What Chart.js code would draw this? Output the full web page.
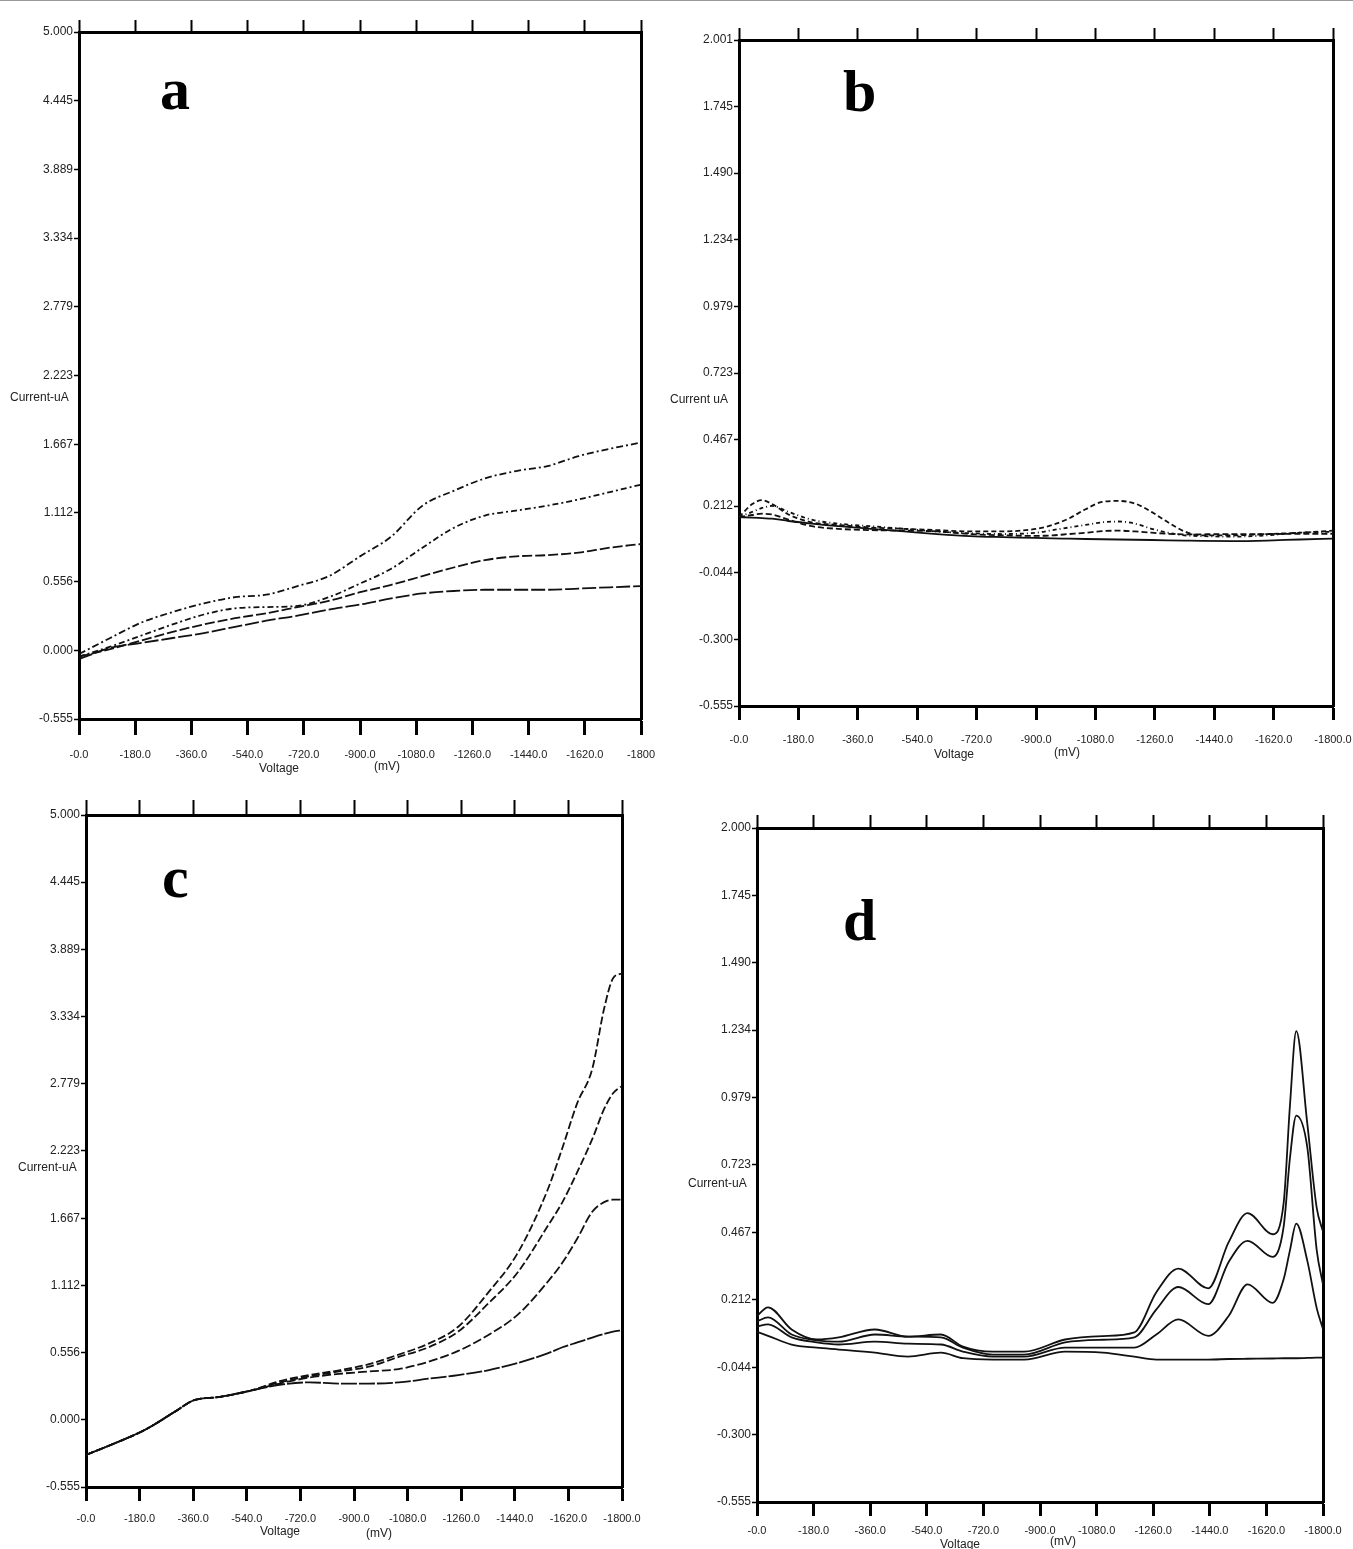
<!DOCTYPE html>
<html>
<head>
<meta charset="utf-8">
<script src="https://cdn.jsdelivr.net/npm/chart.js@4.4.0/dist/chart.umd.min.js"></script>
<style>
html, body { margin: 0; padding: 0; background: #fff; overflow: hidden; width: 1353px; height: 1549px; }
canvas { position: absolute; }
.t { position: absolute; font-family: 'Liberation Sans', sans-serif; font-size: 12px; color: #222; white-space: nowrap; line-height: 1; }
.p { position: absolute; font-family: 'Liberation Serif', serif; font-weight: bold; font-size: 60px; color: #000; line-height: 1; }
</style>
</head>
<body>
<div style="position:absolute;left:0;top:0;width:1353px;height:1px;background:#999"></div>

<canvas id="ca" width="676" height="780" style="left:0;top:0"></canvas>
<canvas id="cb" width="700" height="780" style="left:676px;top:0"></canvas>
<canvas id="cc" width="676" height="769" style="left:0;top:780px"></canvas>
<canvas id="cd" width="677" height="769" style="left:676px;top:780px"></canvas>

<div class="p" style="left:160px;top:59px">a</div>
<div class="p" style="left:843px;top:61px">b</div>
<div class="p" style="left:162px;top:847px">c</div>
<div class="p" style="left:843px;top:890px">d</div>

<div class="t" style="left:10px;top:391px">Current-uA</div>
<div class="t" style="left:259px;top:762px">Voltage</div>
<div class="t" style="left:374px;top:760px">(mV)</div>

<div class="t" style="left:670px;top:393px">Current uA</div>
<div class="t" style="left:934px;top:748px">Voltage</div>
<div class="t" style="left:1054px;top:746px">(mV)</div>

<div class="t" style="left:18px;top:1161px">Current-uA</div>
<div class="t" style="left:260px;top:1525px">Voltage</div>
<div class="t" style="left:366px;top:1527px">(mV)</div>

<div class="t" style="left:688px;top:1177px">Current-uA</div>
<div class="t" style="left:940px;top:1538px">Voltage</div>
<div class="t" style="left:1050px;top:1535px">(mV)</div>

<script>
// x axis ticks (mV), shared by all panels
var xTicks = [0, -180, -360, -540, -720, -900, -1080, -1260, -1440, -1620, -1800];
var xLabelsA = ['-0.0', '-180.0', '-360.0', '-540.0', '-720.0', '-900.0', '-1080.0', '-1260.0', '-1440.0', '-1620.0', '-1800'];
var xLabels = ['-0.0', '-180.0', '-360.0', '-540.0', '-720.0', '-900.0', '-1080.0', '-1260.0', '-1440.0', '-1620.0', '-1800.0'];

// y axis ticks (uA)
var yTicksAC = [-0.555, 0.000, 0.556, 1.112, 1.667, 2.223, 2.779, 3.334, 3.889, 4.445, 5.000];
var yTicksB = [-0.555, -0.300, -0.044, 0.212, 0.467, 0.723, 0.979, 1.234, 1.490, 1.745, 2.001];
var yTicksD = [-0.555, -0.300, -0.044, 0.212, 0.467, 0.723, 0.979, 1.234, 1.490, 1.745, 2.000];

// panel a
var aVolt = [0, -100, -200, -300, -400, -500, -600, -700, -800, -900, -1000, -1100, -1200, -1300, -1400, -1500, -1600, -1700, -1800];
var aCur1 = [-0.03, 0.10, 0.225, 0.31, 0.38, 0.43, 0.45, 0.52, 0.60, 0.76, 0.92, 1.17, 1.29, 1.39, 1.45, 1.49, 1.57, 1.63, 1.68];
var aCur2 = [-0.05, 0.03, 0.12, 0.21, 0.29, 0.34, 0.35, 0.36, 0.43, 0.54, 0.66, 0.83, 0.99, 1.09, 1.13, 1.17, 1.22, 1.28, 1.34];
var aCur3 = [-0.05, 0.01, 0.08, 0.15, 0.21, 0.26, 0.30, 0.35, 0.40, 0.47, 0.53, 0.60, 0.67, 0.73, 0.76, 0.77, 0.79, 0.83, 0.86];
var aCur4 = [-0.07, 0.02, 0.06, 0.10, 0.14, 0.19, 0.24, 0.28, 0.33, 0.37, 0.42, 0.46, 0.48, 0.49, 0.49, 0.49, 0.50, 0.51, 0.52];

// panel b
var bVolt = [0, -40, -70, -100, -150, -220, -300, -400, -500, -600, -700, -800, -900, -950, -1000, -1050, -1100, -1150, -1200, -1250, -1300, -1350, -1400, -1500, -1600, -1700, -1800];
var bCur1 = [0.17, 0.22, 0.235, 0.22, 0.18, 0.15, 0.14, 0.13, 0.125, 0.12, 0.115, 0.115, 0.125, 0.14, 0.165, 0.20, 0.228, 0.232, 0.222, 0.19, 0.15, 0.115, 0.10, 0.10, 0.105, 0.11, 0.118];
var bCur2 = [0.17, 0.19, 0.205, 0.213, 0.19, 0.16, 0.145, 0.135, 0.125, 0.115, 0.108, 0.105, 0.11, 0.12, 0.13, 0.14, 0.15, 0.153, 0.145, 0.125, 0.11, 0.10, 0.097, 0.095, 0.10, 0.11, 0.114];
var bCur3 = [0.17, 0.178, 0.183, 0.18, 0.16, 0.135, 0.125, 0.12, 0.118, 0.115, 0.105, 0.10, 0.098, 0.10, 0.105, 0.11, 0.116, 0.118, 0.115, 0.11, 0.106, 0.104, 0.104, 0.105, 0.105, 0.106, 0.106];
var bCur4 = [0.17, 0.168, 0.166, 0.164, 0.155, 0.145, 0.135, 0.125, 0.115, 0.105, 0.097, 0.093, 0.09, 0.088, 0.087, 0.086, 0.085, 0.084, 0.083, 0.082, 0.081, 0.08, 0.079, 0.078, 0.08, 0.084, 0.087];

// panel c
var cVolt = [0, -100, -200, -300, -360, -450, -550, -650, -750, -850, -950, -1050, -1150, -1250, -1350, -1450, -1550, -1600, -1650, -1700, -1740, -1770, -1800];
var cCur1 = [-0.29, -0.19, -0.08, 0.07, 0.16, 0.19, 0.24, 0.32, 0.37, 0.41, 0.46, 0.54, 0.63, 0.77, 1.05, 1.38, 1.90, 2.25, 2.62, 2.90, 3.40, 3.65, 3.69];
var cCur2 = [-0.29, -0.19, -0.08, 0.07, 0.16, 0.19, 0.24, 0.31, 0.36, 0.40, 0.44, 0.52, 0.60, 0.73, 0.96, 1.22, 1.60, 1.80, 2.05, 2.32, 2.57, 2.70, 2.76];
var cCur3 = [-0.29, -0.19, -0.08, 0.07, 0.16, 0.19, 0.24, 0.30, 0.35, 0.38, 0.40, 0.42, 0.48, 0.57, 0.70, 0.87, 1.14, 1.30, 1.50, 1.72, 1.80, 1.82, 1.82];
var cCur4 = [-0.29, -0.19, -0.08, 0.07, 0.16, 0.19, 0.24, 0.29, 0.31, 0.30, 0.30, 0.31, 0.34, 0.37, 0.41, 0.47, 0.55, 0.60, 0.64, 0.68, 0.71, 0.73, 0.74];

// panel d
var dVolt = [0, -35, -110, -190, -260, -375, -480, -585, -655, -750, -850, -980, -1100, -1200, -1270, -1340, -1435, -1500, -1560, -1640, -1675, -1695, -1715, -1750, -1780, -1800];
var dCur1 = [0.15, 0.183, 0.099, 0.061, 0.069, 0.099, 0.072, 0.08, 0.034, 0.015, 0.015, 0.061, 0.074, 0.088, 0.24, 0.33, 0.255, 0.43, 0.54, 0.46, 0.58, 0.95, 1.23, 0.88, 0.56, 0.47];
var dCur2 = [0.13, 0.145, 0.08, 0.058, 0.053, 0.08, 0.072, 0.069, 0.03, 0.004, 0.004, 0.05, 0.06, 0.069, 0.175, 0.26, 0.195, 0.355, 0.435, 0.374, 0.49, 0.75, 0.91, 0.79, 0.40, 0.27];
var dCur3 = [0.11, 0.118, 0.069, 0.05, 0.042, 0.053, 0.045, 0.042, 0.015, -0.004, -0.004, 0.03, 0.03, 0.03, 0.08, 0.137, 0.075, 0.15, 0.27, 0.20, 0.29, 0.40, 0.50, 0.36, 0.18, 0.10];
var dCur4 = [0.09, 0.075, 0.042, 0.03, 0.023, 0.011, -0.004, 0.011, -0.01, -0.015, -0.015, 0.015, 0.011, -0.004, -0.015, -0.015, -0.015, -0.013, -0.012, -0.011, -0.01, -0.01, -0.01, -0.009, -0.008, -0.008];

var xFont = { family: 'Liberation Sans', size: 11 };
var yFont = { family: 'Liberation Sans', size: 12 };

function line(volt, cur, dash) {
    return {
        data: volt.map(function (v, i) { return { x: v, y: cur[i] }; }),
        borderColor: '#111',
        borderWidth: 1.8,
        borderDash: dash,
        pointRadius: 0,
        fill: false,
        cubicInterpolationMode: 'monotone'
    };
}

function panel(id, o) {
    var setX = function (s) { s.ticks = xTicks.map(function (v) { return { value: v }; }); };
    var setY = function (s) { s.ticks = o.yTicks.map(function (v) { return { value: v }; }); };
    var yMin = o.yTicks[0], yMax = o.yTicks[o.yTicks.length - 1];
    var border = { color: '#000', width: 3 };
    new Chart(document.getElementById(id).getContext('2d'), {
        type: 'line',
        data: { datasets: o.datasets },
        options: {
            responsive: false,
            animation: false,
            devicePixelRatio: 1,
            layout: { padding: 0 },
            plugins: { legend: { display: false }, tooltip: { enabled: false } },
            scales: {
                x: {
                    type: 'linear', position: 'bottom', min: -1800, max: 0, reverse: true,
                    afterBuildTicks: setX,
                    afterFit: function (s) { s.height = o.bottom; },
                    ticks: {
                        callback: function (v, i) { return o.xLabels[i]; },
                        font: xFont, color: '#222', padding: o.labelPad, maxRotation: 0, autoSkip: false
                    },
                    grid: { drawOnChartArea: false, tickLength: o.botTick, tickWidth: 3, tickColor: '#000' },
                    border: border
                },
                xTop: {
                    type: 'linear', position: 'top', min: -1800, max: 0, reverse: true,
                    afterBuildTicks: setX,
                    afterFit: function (s) { s.height = o.top; },
                    ticks: { display: false },
                    grid: { drawOnChartArea: false, tickLength: o.topTick, tickWidth: 2, tickColor: '#000' },
                    border: border
                },
                y: {
                    type: 'linear', position: 'left', min: yMin, max: yMax,
                    afterBuildTicks: setY,
                    afterFit: function (s) { s.width = o.left; },
                    ticks: {
                        callback: function (v) { return v.toFixed(3); },
                        font: yFont, color: '#222', padding: 1
                    },
                    grid: { drawOnChartArea: false, tickLength: 5, tickWidth: 1.5, tickColor: '#000' },
                    border: border
                },
                yRight: {
                    type: 'linear', position: 'right', min: yMin, max: yMax,
                    afterFit: function (s) { s.width = o.right; },
                    ticks: { display: false },
                    grid: { drawOnChartArea: false, drawTicks: false },
                    border: border
                }
            }
        }
    });
}

panel('ca', {
    left: 79, right: 35, top: 32, bottom: 61, topTick: 12, botTick: 16, labelPad: 13,
    yTicks: yTicksAC, xLabels: xLabelsA,
    datasets: [
        line(aVolt, aCur1, [7, 3, 2, 3]),
        line(aVolt, aCur2, [6, 3, 2, 3]),
        line(aVolt, aCur3, [10, 3]),
        line(aVolt, aCur4, [14, 3])
    ]
});

panel('cb', {
    left: 63, right: 43, top: 40, bottom: 74, topTick: 12, botTick: 14, labelPad: 13,
    yTicks: yTicksB, xLabels: xLabels,
    datasets: [
        line(bVolt, bCur1, [5, 3]),
        line(bVolt, bCur2, [4, 3, 1, 3]),
        line(bVolt, bCur3, [6, 3]),
        line(bVolt, bCur4, [])
    ]
});

panel('cc', {
    left: 86, right: 54, top: 35, bottom: 62, topTick: 15, botTick: 14, labelPad: 11,
    yTicks: yTicksAC, xLabels: xLabels,
    datasets: [
        line(cVolt, cCur1, [8, 3]),
        line(cVolt, cCur2, [8, 3]),
        line(cVolt, cCur3, [9, 3]),
        line(cVolt, cCur4, [16, 2])
    ]
});

panel('cd', {
    left: 81, right: 30, top: 48, bottom: 47, topTick: 13, botTick: 14, labelPad: 8,
    yTicks: yTicksD, xLabels: xLabels,
    datasets: [
        line(dVolt, dCur1, []),
        line(dVolt, dCur2, []),
        line(dVolt, dCur3, []),
        line(dVolt, dCur4, [])
    ]
});
</script>
</body>
</html>
